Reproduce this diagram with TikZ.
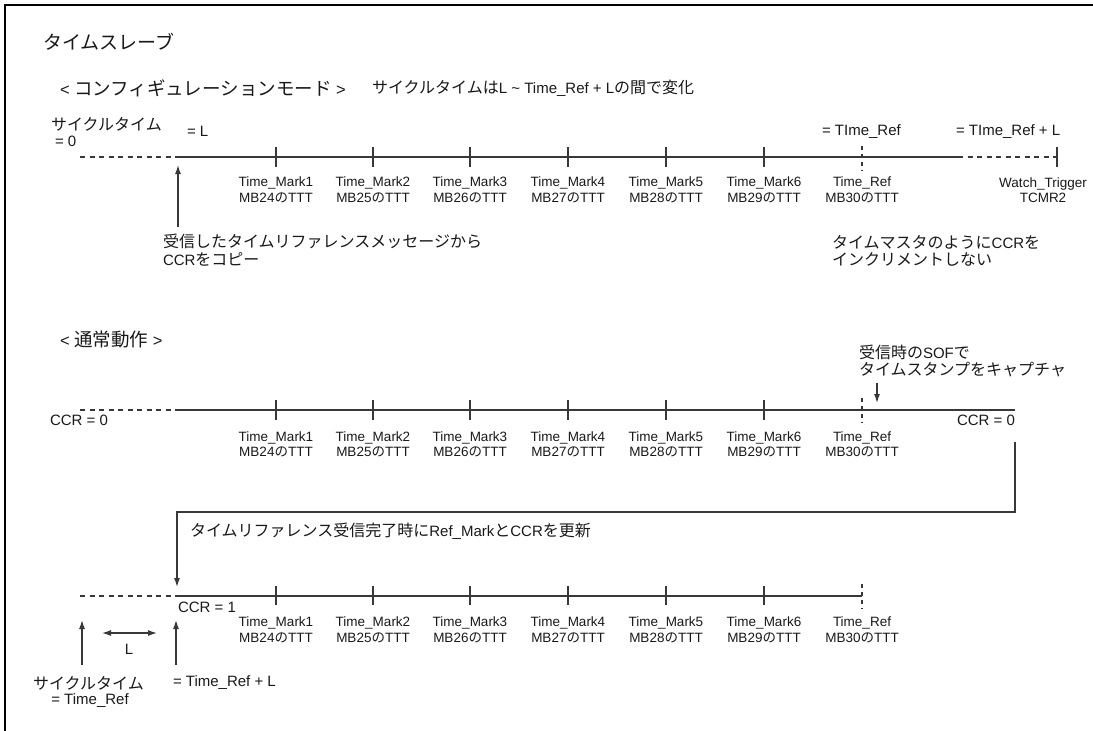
\documentclass[tikz,border=0pt]{standalone}
\usepackage{fontspec}
\setmainfont{Liberation Sans}
\newfontfamily\jp{Noto Sans CJK JP}
\usetikzlibrary{arrows.meta}
\newcommand\J[1]{{\jp\fontsize{16}{18}\selectfont #1}}
\newcommand\JT[1]{{\jp\fontsize{19}{21}\selectfont #1}}
\newcommand\JH[1]{{\jp\fontsize{18.5}{21}\selectfont #1}}
\begin{document}
\begin{tikzpicture}[x=1pt,y=-1pt,
  every node/.style={inner sep=0pt, outer sep=0pt, text=black!90},
  lbl/.style={font=\fontsize{13.5}{15.5}\selectfont, align=center},
  med/.style={font=\fontsize{15}{17.5}\selectfont, anchor=west, align=left},
  hd/.style={font=\fontsize{16.5}{19}\selectfont, anchor=west},
  ln/.style={draw=black!78, line width=1.2pt},
  dsh/.style={ln, dash pattern=on 5pt off 4.5pt},
  vdsh/.style={ln, dash pattern=on 4pt off 4pt},
  arr/.style={ln, -{Latex[length=9pt,width=6pt]}},
  darr/.style={ln, {Latex[length=9pt,width=6pt]}-{Latex[length=9pt,width=6pt]}},
]
\useasboundingbox (0,0) rectangle (1093,731);
\draw[line width=2pt] (5,731) -- (5,5) -- (1093,5);

% ---------- titles
\node[anchor=west] (title) at (43,42) {\JT{タイムスレーブ}};
\node[hd] (cfg) at (60,88) {< \JH{コンフィギュレーションモード} >};
\node[med] (cfgnote) at (372,88) {\J{サイクルタイムは}L \textasciitilde{} Time\_Ref + L\J{の間で変化}};

% ---------- section 1
\node[med] (ct0a) at (51,124) {\J{サイクルタイム}};
\node[med] (ct0b) at (55,141) {= 0};
\node[med] (eqL) at (187,131) {= L};
\node[med] (eqR) at (822,132) {= TIme\_Ref};
\node[med] (eqRL) at (956,132) {= TIme\_Ref + L};

\coordinate (a0) at (80,157);
\coordinate (a1) at (178,157);
\coordinate (a2) at (958,157);
\coordinate (a3) at (1057,157);
\draw[dsh] (a0) -- (a1);
\draw[ln] (a1) -- (a2);
\draw[dsh] (a2) -- (a3);
\draw[ln] (1057,147) -- (1057,167);
\draw[vdsh] (862,146) -- (862,171);

\foreach \x/\i/\m in {276/1/24,373/2/25,470/3/26,568/4/27,666/5/28,764/6/29}{
  \draw[ln] (\x,147) -- (\x,167);
  \node[lbl] (s1m\i) at (\x,190) {Time\_Mark\i\\MB\m{\jp の}TTT};
}
\node[lbl] (s1ref) at (862,190) {Time\_Ref\\MB30{\jp の}TTT};
\node[lbl] (s1wt) at (1043,190) {Watch\_Trigger\\TCMR2};

\coordinate (up1) at (178,227);
\coordinate (up1t) at (178,165);
\draw[arr] (up1) -- (up1t);
\node[med] (copy) at (163,250) {\J{受信したタイムリファレンスメッセージから}\\CCR\J{をコピー}};
\node[med] (noinc) at (832,251) {\J{タイムマスタのように}CCR\J{を}\\\J{インクリメントしない}};

% ---------- section 2
\node[hd] (norm) at (60,340) {< \JH{通常動作} >};
\coordinate (b0) at (80,410);
\coordinate (b1) at (178,410);
\coordinate (b2) at (1015,410);
\draw[dsh] (b0) -- (b1);
\draw[ln] (b1) -- (b2);
\draw[vdsh] (862,398) -- (862,423);
\foreach \x/\i/\m in {276/1/24,373/2/25,470/3/26,568/4/27,666/5/28,764/6/29}{
  \draw[ln] (\x,400) -- (\x,420);
  \node[lbl] (s2m\i) at (\x,444.5) {Time\_Mark\i\\MB\m{\jp の}TTT};
}
\node[lbl] (s2ref) at (862,444.5) {Time\_Ref\\MB30{\jp の}TTT};
\node[med] (ccr0l) at (50,420) {CCR = 0};
\node[med, anchor=east] (ccr0r) at (1015,420) {CCR = 0};
\node[med] (sof) at (859,361) {\J{受信時の}SOF\J{で}\\\J{タイムスタンプをキャプチャ}};
\coordinate (sofa) at (877,383);
\coordinate (sofb) at (877,403);
\draw[arr] (sofa) -- (sofb);

\coordinate (r0) at (1015,442);
\coordinate (r1) at (1015,512);
\coordinate (r2) at (177,512);
\coordinate (r3) at (177,587);
\draw[arr] (r0) -- (r1) -- (r2) -- (r3);
\node[med] (upd) at (190,531) {\J{タイムリファレンス受信完了時に}Ref\_Mark\J{と}CCR\J{を更新}};

% ---------- section 3
\coordinate (c0) at (80,596);
\coordinate (c1) at (177,596);
\coordinate (c2) at (862,596);
\draw[dsh] (c0) -- (c1);
\draw[ln] (c1) -- (c2);
\draw[vdsh] (862,584) -- (862,609);
\foreach \x/\i/\m in {276/1/24,373/2/25,470/3/26,568/4/27,666/5/28,764/6/29}{
  \draw[ln] (\x,586) -- (\x,605);
  \node[lbl] (s3m\i) at (\x,630) {Time\_Mark\i\\MB\m{\jp の}TTT};
}
\node[lbl] (s3ref) at (862,630) {Time\_Ref\\MB30{\jp の}TTT};
\node[med] (ccr1) at (178,607) {CCR = 1};

\coordinate (u2a) at (82,665);
\coordinate (u2b) at (82,620);
\coordinate (u3a) at (176,665);
\coordinate (u3b) at (176,620);
\draw[arr] (u2a) -- (u2b);
\draw[arr] (u3a) -- (u3b);
\coordinate (la) at (102,633);
\coordinate (lb) at (157,633);
\draw[darr] (la) -- (lb);
\node[med, anchor=center] (Ltxt) at (129,649) {L};
\node[med] (ct1a) at (33,683) {\J{サイクルタイム}};
\node[med, anchor=center] (ct1b) at (90,701) {= Time\_Ref};
\node[med] (ct1c) at (173,683) {= Time\_Ref + L};
\end{tikzpicture}
\end{document}
